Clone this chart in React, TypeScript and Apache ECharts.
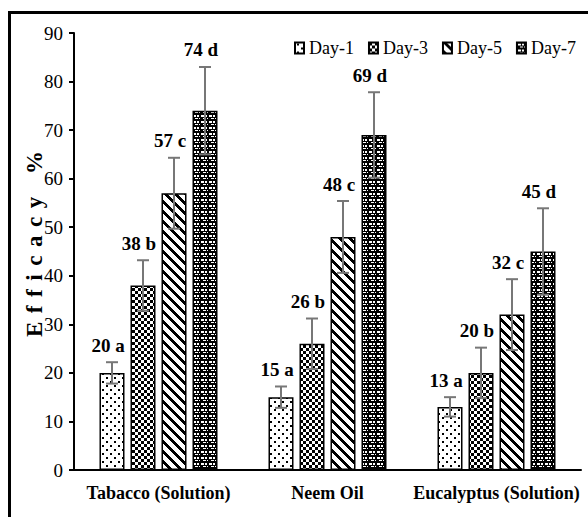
import React, { useEffect, useRef } from "react";
import * as echarts from "echarts";

const categories = ["Tabacco (Solution)", "Neem Oil", "Eucalyptus (Solution)"];
const seriesNames = ["Day-1", "Day-3", "Day-5", "Day-7"];
const day1 = [20, 15, 13];
const day3 = [38, 26, 20];
const day5 = [57, 48, 32];
const day7 = [74, 69, 45];
const err1 = [2.2, 2.2, 2.0];
const err3 = [5.2, 5.2, 5.2];
const err5 = [7.3, 7.4, 7.3];
const err7 = [9.0, 8.8, 8.9];
const letters1 = ["a", "a", "a"];
const letters3 = ["b", "b", "b"];
const letters5 = ["c", "c", "c"];
const letters7 = ["d", "d", "d"];
const yMin = 0;
const yMax = 90;
const yInterval = 10;
const yTitle = "Efficacy %";

const BAR_W = 25;
const BAR_GAP = 6;
const SERIF = "Times New Roman, Liberation Serif, DejaVu Serif, serif";

type Pat = { image: string; repeat: string; imageWidth: number; imageHeight: number };

function makePattern(w: number, h: number, draw: (ctx: CanvasRenderingContext2D) => void): Pat {
  const c = document.createElement("canvas");
  c.width = w;
  c.height = h;
  const ctx = c.getContext("2d")!;
  draw(ctx);
  return { image: c.toDataURL(), repeat: "repeat", imageWidth: w, imageHeight: h };
}

function buildPatterns(): Pat[] {
  const p1 = makePattern(8, 8, (ctx) => {
    ctx.fillStyle = "#fff";
    ctx.fillRect(0, 0, 8, 8);
    ctx.fillStyle = "#000";
    ctx.fillRect(2, 1, 2, 2);
    ctx.fillRect(6, 5, 2, 2);
  });
  const p3 = makePattern(6, 6, (ctx) => {
    ctx.fillStyle = "#fff";
    ctx.fillRect(0, 0, 6, 6);
    ctx.fillStyle = "#000";
    ctx.fillRect(0, 0, 3, 3);
    ctx.fillRect(3, 3, 3, 3);
  });
  const p5 = makePattern(10, 10, (ctx) => {
    ctx.fillStyle = "#fff";
    ctx.fillRect(0, 0, 10, 10);
    ctx.fillStyle = "#000";
    for (let y = 0; y < 10; y++) {
      for (let x = 0; x < 10; x++) {
        if ((((x - y) % 10) + 10) % 10 < 4) ctx.fillRect(x, y, 1, 1);
      }
    }
  });
  const p7 = makePattern(8, 6, (ctx) => {
    ctx.fillStyle = "#000";
    ctx.fillRect(0, 0, 8, 6);
    ctx.fillStyle = "#fff";
    ctx.fillRect(1, 1, 3, 2);
    ctx.fillRect(5, 1, 2, 2);
    ctx.fillRect(3, 4, 3, 1);
    ctx.fillRect(7, 4, 1, 1);
  });
  return [p1, p3, p5, p7];
}

export default function App() {
  const ref = useRef<HTMLDivElement>(null);

  useEffect(() => {
    if (!ref.current) return;
    const chart = echarts.init(ref.current, undefined, { renderer: "svg" });
    const patterns = buildPatterns();
    const values = [day1, day3, day5, day7];
    const errs = [err1, err3, err5, err7];
    const letters = [letters1, letters3, letters5, letters7];

    const points: { ci: number; si: number; v: number; e: number; label: string }[] = [];
    values.forEach((arr, si) =>
      arr.forEach((v, ci) =>
        points.push({ ci, si, v, e: errs[si][ci], label: `${v} ${letters[si][ci]}` })
      )
    );

    const titleSize = 23;
    const mc = document.createElement("canvas").getContext("2d")!;
    mc.font = `bold ${titleSize}px ${SERIF}`;
    const chars = yTitle.split("");
    const widths = chars.map((ch) => mc.measureText(ch).width);
    const natural = widths.reduce((a, b) => a + b, 0);
    const targetLen = 186;
    const extra = Math.max(0, (targetLen - natural) / (chars.length - 1));
    let acc = 0;
    const titleChildren: any[] = chars.map((ch, i) => {
      const el = {
        type: "text",
        x: acc,
        y: 0,
        style: {
          text: ch,
          fontFamily: SERIF,
          fontSize: titleSize,
          fontWeight: "bold",
          fill: "#000",
          align: "left",
          verticalAlign: "middle",
        },
      };
      acc += widths[i] + extra;
      return el;
    });

    const option: any = {
      animation: false,
      backgroundColor: "#fff",
      textStyle: { fontFamily: SERIF },
      grid: { left: 74, right: 7, top: 33, bottom: 47, containLabel: false },
      legend: {
        data: seriesNames,
        left: 294,
        top: 39,
        padding: 0,
        itemWidth: 9,
        itemHeight: 11,
        itemGap: 14,
        icon: "rect",
        textStyle: { fontFamily: SERIF, fontSize: 18, color: "#000" },
      },
      xAxis: {
        type: "category",
        data: categories,
        axisLine: { show: true, lineStyle: { color: "#000", width: 2 } },
        axisTick: { show: false },
        axisLabel: {
          fontFamily: SERIF,
          fontWeight: "bold",
          fontSize: 18,
          color: "#000",
          margin: 14,
          interval: 0,
        },
        splitLine: { show: false },
      },
      yAxis: {
        type: "value",
        min: yMin,
        max: yMax,
        interval: yInterval,
        axisLine: { show: true, lineStyle: { color: "#000", width: 2 } },
        axisTick: { show: true, length: 5, lineStyle: { color: "#000", width: 2 } },
        axisLabel: { fontFamily: SERIF, fontSize: 19, color: "#000", margin: 11 },
        splitLine: { show: false },
      },
      graphic: [
        {
          type: "rect",
          shape: { x: 9.5, y: 12.5, width: 700, height: 700 },
          style: { fill: "none", stroke: "#000", lineWidth: 3 },
          silent: true,
          z: 100,
        },
        {
          type: "group",
          x: 34,
          y: 337,
          rotation: Math.PI / 2,
          children: titleChildren,
        },
      ],
      series: [
        ...values.map((arr, si) => ({
          name: seriesNames[si],
          type: "bar",
          data: arr,
          barWidth: BAR_W,
          barGap: `${(BAR_GAP / BAR_W) * 100}%`,
          itemStyle: { color: patterns[si], borderColor: "#000", borderWidth: 1.5 },
          z: 2,
        })),
        {
          type: "custom",
          name: "err",
          data: points.map((p) => [p.ci, p.v, p.e, p.si]),
          encode: { x: 0, y: 1 },
          z: 5,
          renderItem: (params: any, api: any) => {
            const p = points[params.dataIndex];
            const c = api.coord([p.ci, 0]);
            const x = c[0] + (p.si - 1.5) * (BAR_W + BAR_GAP);
            const top = api.coord([p.ci, p.v + p.e])[1];
            const bot = api.coord([p.ci, p.v - p.e])[1];
            const ls = { stroke: "#777", lineWidth: 2 };
            return {
              type: "group",
              children: [
                { type: "line", shape: { x1: x, y1: top, x2: x, y2: bot }, style: ls },
                { type: "line", shape: { x1: x - 6, y1: top, x2: x + 6, y2: top }, style: ls },
                { type: "line", shape: { x1: x - 6, y1: bot, x2: x + 6, y2: bot }, style: ls },
                {
                  type: "text",
                  x: x - 4,
                  y: top - 17,
                  style: {
                    text: p.label,
                    fontFamily: SERIF,
                    fontSize: 19,
                    fontWeight: "bold",
                    fill: "#000",
                    align: "center",
                    verticalAlign: "middle",
                  },
                },
              ],
            };
          },
        },
      ],
    };
    chart.setOption(option);
    return () => chart.dispose();
  }, []);

  return (
    <div
      ref={ref}
      style={{ position: "fixed", left: 0, top: 0, width: 588, height: 517, background: "#fff" }}
    />
  );
}
